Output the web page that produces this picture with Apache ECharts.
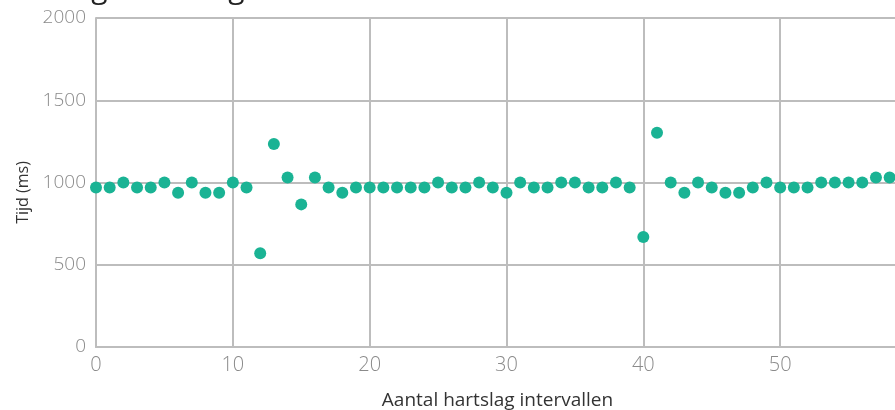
<!DOCTYPE html>
<html>
<head>
<meta charset="utf-8">
<script src="https://cdn.jsdelivr.net/npm/echarts@6/dist/echarts.min.js"></script>
<style>
html,body{margin:0;padding:0;background:#fff;}
#chart{width:895px;height:410px;}
</style>
</head>
<body>
<div id="chart"></div>
<script>
const titleText = 'Hartslag interval grafiek';
const xAxisName = 'Aantal hartslag intervallen';
const yAxisName = 'Tijd (ms)';
const xTicks = [0, 10, 20, 30, 40, 50, 60];
const yTicks = [0, 500, 1000, 1500, 2000];
const intervalNr = [0,1,2,3,4,5,6,7,8,9,10,11,12,13,14,15,16,17,18,19,20,21,22,23,24,25,26,27,28,29,30,31,32,33,34,35,36,37,38,39,40,41,42,43,44,45,46,47,48,49,50,51,52,53,54,55,56,57,58];
const tijdMs = [969,969,1000,969,969,1000,938,1000,938,938,1000,969,570,1234,1031,867,1031,969,938,969,969,969,969,969,969,1000,969,969,1000,969,938,1000,969,969,1000,1000,969,969,1000,969,668,1302,1000,938,1000,969,938,938,969,1000,969,969,969,1000,1000,1000,1000,1031,1031];

const chart = echarts.init(document.getElementById('chart'), null, {renderer: 'canvas'});
const font = '"Open Sans", sans-serif';
const gridColor = '#bdbdbd';
chart.setOption({
  animation: false,
  title: {
    text: titleText,
    left: -14,
    top: -31,
    textStyle: {fontFamily: font, fontSize: 30, fontWeight: 'normal', color: '#222'}
  },
  grid: {left: 96, top: 18, bottom: 63, right: -22, containLabel: false, outerBoundsMode: 'none'},
  xAxis: {
    type: 'value',
    min: xTicks[0],
    max: xTicks[xTicks.length - 1],
    interval: xTicks[1] - xTicks[0],
    name: xAxisName,
    nameLocation: 'middle',
    nameGap: 44,
    nameTextStyle: {fontFamily: font, fontSize: 19, color: '#333', padding: [0, 18, 0, 0]},
    axisLine: {show: true, lineStyle: {color: gridColor, width: 2}},
    axisTick: {show: false},
    axisLabel: {fontFamily: font, fontSize: 20, fontWeight: 300, color: '#8a8a8a', margin: 8, formatter: v => String(v)},
    splitLine: {show: true, lineStyle: {color: gridColor, width: 2}}
  },
  yAxis: {
    type: 'value',
    min: yTicks[0],
    max: yTicks[yTicks.length - 1],
    interval: yTicks[1] - yTicks[0],
    name: yAxisName,
    nameLocation: 'middle',
    nameGap: 57,
    nameTextStyle: {fontFamily: font, fontSize: 16, color: '#333', padding: [0, 20, 0, 0]},
    axisLine: {show: true, lineStyle: {color: gridColor, width: 2}},
    axisTick: {show: false},
    axisLabel: {fontFamily: font, fontSize: 19, fontWeight: 300, color: '#8a8a8a', margin: 10, formatter: v => String(v)},
    splitLine: {show: true, lineStyle: {color: gridColor, width: 2}}
  },
  series: [{
    type: 'scatter',
    symbol: 'circle',
    symbolSize: 12,
    clip: false,
    itemStyle: {color: '#1ab394', opacity: 1},
    data: intervalNr.map((x, i) => [x, tijdMs[i]])
  }]
});
</script>
</body>
</html>
